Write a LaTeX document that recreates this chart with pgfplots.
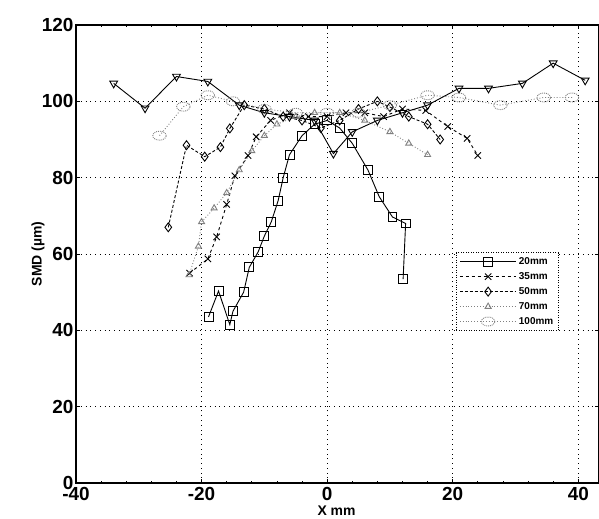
\documentclass[border=0pt]{standalone}
\usepackage{pgfplots}
\pgfplotsset{compat=1.18}
\usepackage{fontspec}
\setmainfont{Liberation Sans}
\usetikzlibrary{calc}

\begin{document}
\begin{tikzpicture}
\begin{axis}[
    name=ax,
    scale only axis,
    width=523bp, height=458bp,
    xmin=-40, xmax=43.3, ymin=0, ymax=120,
    xtick={-40,-20,0,20,40}, ytick={0,20,...,120},
    minor x tick num=4,
    tick align=inside,
    major tick length=4pt, minor tick length=2pt,
    grid=major,
    major grid style={black, line width=0.8pt, dash pattern=on 0.8pt off 4pt},
    axis line style={line width=1.6pt},
    tick style={black, line width=0.8pt},
    /pgf/number format/assume math mode=true,
    ticklabel style={font=\bfseries\fontsize{19}{20}\selectfont},
    xticklabel style={yshift=-1pt},
    yticklabel style={xshift=1pt},
    xlabel={X mm},
    xlabel style={font=\bfseries\fontsize{14}{15}\selectfont, at={(axis cs:1.5,0)}, anchor=north, yshift=-19bp},
    ylabel={SMD (µm)},
    ylabel style={font=\bfseries\fontsize{14}{15}\selectfont, at={(axis cs:-40,60)}, anchor=south, yshift=28bp},
    legend style={at={(axis cs:20.5,60.5)}, anchor=north west, draw=black,
        line width=1pt, dash pattern=on 1pt off 1.5pt,
        font=\bfseries\fontsize{10}{11}\selectfont, row sep=2.5pt,
        inner xsep=3pt, inner ysep=3pt},
    legend cell align=left,
    legend image code/.code={\draw[mark repeat=2,mark phase=2] plot coordinates {(0cm,0cm)(1cm,0cm)(2cm,0cm)};},
    every axis plot/.append style={line width=0.9pt},
    mark size=4.5pt,
]
% 20mm
\addplot[black, solid, mark=square, mark options={solid}] coordinates {
 (-18.9,43.5) (-17.3,50.3) (-15.5,41.5) (-15,45) (-13.3,50) (-12.4,56.5) (-11,60.5)
 (-10,64.7) (-8.9,68.4) (-7.8,74) (-7,80) (-6,86) (-4,91) (-2,94) (0,95) (2,93)
 (4,89) (6.5,82) (8.3,75) (10.4,69.7) (12.5,68) (12.1,53.4)
};
% 35mm
\addplot[black, dashed, mark=x, mark options={solid}] coordinates {
 (-21.9,55) (-19,58.7) (-17.6,64.5) (-16,73) (-14.7,80.5) (-12.6,85.8) (-11.3,90.7)
 (-9,95) (-6,97) (-3,96) (0,96) (3,97) (6,97) (9,96) (12,98) (15.7,97.6)
 (19.2,93.4) (22.3,90.3) (24,85.8)
};
% 50mm
\addplot[black, densely dashed, mark=diamond, mark options={solid}] coordinates {
 (-25.3,67) (-22.4,88.5) (-19.5,85.5) (-17,88) (-15.5,92.9) (-13.2,99) (-10,98)
 (-7,96) (-4,95) (-1,93) (2,95) (5,98) (8,100) (10,98.5) (13,96) (16,94) (18,90)
};
% 70mm
\addplot[gray, dotted, mark=triangle, mark size=3.5pt, mark options={solid}] coordinates {
 (-22,54.5) (-20.5,62) (-20,68.4) (-18,72) (-16,76) (-14,82) (-12,87) (-10,91)
 (-8,94) (-5,96) (-2,97) (2,97) (6,95) (10,92) (13,89) (16,86)
};
% 100mm
\addplot[gray, dotted, mark=o, mark options={densely dotted, xscale=1.5}] coordinates {
 (-26.7,91) (-22.9,98.6) (-19,101.6) (-15,100) (-10,98) (-5,97) (0,97) (5,97)
 (10,99) (16,101.6) (21,101) (27.6,99) (34.5,101) (39,101)
};
\addplot[black, solid, mark=triangle, mark options={solid, rotate=180}, forget plot] coordinates {
 (-34,104.7) (-29,98.2) (-24,106.5) (-19,105.2) (-14,99) (-10,97) (-6,96) (-2,95)
 (1,86.3) (4,92) (8,95) (12,97) (16,99) (21,103.4) (25.7,103.4) (31.1,104.7)
 (36,110) (41.1,105.5)
};
\legend{20mm, 35mm, 50mm, 70mm, 100mm}
\end{axis}
\pgfresetboundingbox
\path[use as bounding box] ($(ax.south west)+(-76bp,-36bp)$) rectangle ($(ax.north east)+(0bp,25bp)$);
\end{tikzpicture}
\end{document}
